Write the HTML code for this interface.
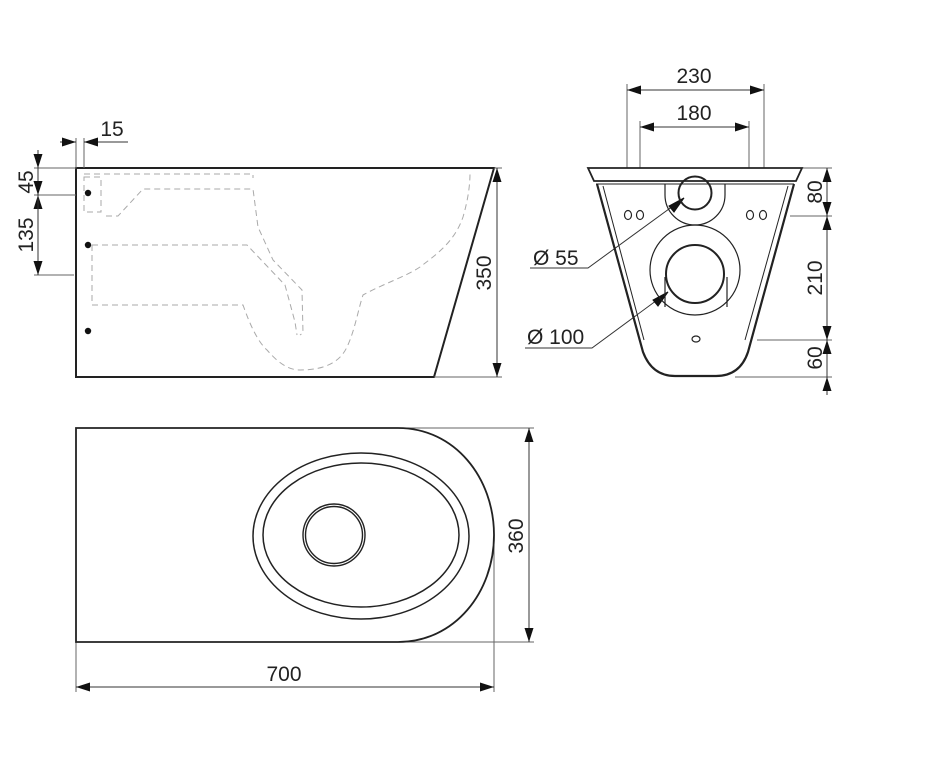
<!DOCTYPE html>
<html><head><meta charset="utf-8"><style>
html,body{margin:0;padding:0;background:#fff;}
svg{display:block;}
text{font-family:"Liberation Sans","DejaVu Sans",sans-serif;font-size:21px;fill:#222;}
</style></head><body>
<svg width="946" height="777" viewBox="0 0 946 777" xmlns="http://www.w3.org/2000/svg">
<defs>
<marker id="a" viewBox="0 0 10 10" refX="10" refY="5" markerWidth="14" markerHeight="9" orient="auto-start-reverse" markerUnits="userSpaceOnUse" preserveAspectRatio="none"><path d="M0,0 L10,5 L0,10 Z" fill="#111"/></marker>
</defs>
<g fill="none" stroke="#222" stroke-width="2">
<path d="M76,168 L494,168 L434,377 L76,377 Z"/>
</g>
<g fill="none" stroke="#aaa" stroke-width="1" stroke-dasharray="6,4">
<path d="M84,174 L253,174 L253,178"/>
<path d="M84,177 L101,177 L101,212 L84,212 Z"/>
<path d="M106,216 L118,216 L143,189 L253,189 L258,227 L273,260 L302,290 L303,333 L300,335"/>
<path d="M92,245 L247,245 L285,285 L295,322 L297,335"/>
<path d="M92,245 L92,305 L243,305 C250,325 258,342 267,350 C280,365 290,370 300,370 C325,370 340,362 347,347 C355,330 358,310 363,295 C385,283 405,277 420,267 C440,252 455,240 463,217 C468,200 470,185 470,173"/>
</g>
<g fill="#111"><circle cx="88" cy="193" r="3.2"/><circle cx="88" cy="245" r="3.2"/><circle cx="88" cy="331" r="3.2"/></g>
<g fill="none" stroke="#666" stroke-width="1">
<line x1="494" y1="168" x2="502" y2="168"/><line x1="434" y1="377" x2="502" y2="377"/>
<line x1="497" y1="168" x2="497" y2="377" marker-start="url(#a)" marker-end="url(#a)" stroke="#333"/>
<line x1="76" y1="138" x2="76" y2="168"/><line x1="84" y1="138" x2="84" y2="168"/>
<line x1="60" y1="142" x2="76" y2="142" marker-end="url(#a)" stroke="#333"/>
<line x1="128" y1="142" x2="84" y2="142" marker-end="url(#a)" stroke="#333"/>
<line x1="34" y1="168" x2="76" y2="168"/><line x1="34" y1="195" x2="76" y2="195"/><line x1="34" y1="275" x2="74" y2="275"/>
<line x1="38" y1="150" x2="38" y2="168" marker-end="url(#a)" stroke="#333"/>
<line x1="38" y1="168" x2="38" y2="195" marker-end="url(#a)" stroke="#333"/>
<line x1="38" y1="275" x2="38" y2="195" marker-end="url(#a)" stroke="#333"/>
<line x1="38" y1="195" x2="38" y2="275" marker-end="url(#a)" stroke="#333"/>
<line x1="627" y1="84" x2="627" y2="168"/><line x1="764" y1="84" x2="764" y2="168"/>
<line x1="640" y1="121" x2="640" y2="168"/><line x1="749" y1="121" x2="749" y2="168"/>
<line x1="627" y1="90" x2="764" y2="90" marker-start="url(#a)" marker-end="url(#a)" stroke="#333"/>
<line x1="640" y1="127" x2="749" y2="127" marker-start="url(#a)" marker-end="url(#a)" stroke="#333"/>
<line x1="802" y1="168" x2="832" y2="168"/><line x1="790" y1="216" x2="832" y2="216"/>
<line x1="757" y1="340" x2="832" y2="340"/><line x1="735" y1="377" x2="832" y2="377"/>
<line x1="827" y1="168" x2="827" y2="216" marker-start="url(#a)" marker-end="url(#a)" stroke="#333"/>
<line x1="827" y1="216" x2="827" y2="340" marker-start="url(#a)" marker-end="url(#a)" stroke="#333"/>
<line x1="827" y1="340" x2="827" y2="377" marker-start="url(#a)" stroke="#333"/>
<line x1="827" y1="395" x2="827" y2="377" marker-end="url(#a)" stroke="#333"/>
<path d="M530,268 L588,268 L684,198" stroke="#333"/>
<path d="M525,348 L592,348 L668,292" stroke="#333"/>
<line x1="400" y1="428" x2="534" y2="428"/><line x1="400" y1="642" x2="534" y2="642"/>
<line x1="529" y1="428" x2="529" y2="642" marker-start="url(#a)" marker-end="url(#a)" stroke="#333"/>
<line x1="76" y1="642" x2="76" y2="692"/><line x1="494" y1="535" x2="494" y2="692"/>
<line x1="76" y1="687" x2="494" y2="687" marker-start="url(#a)" marker-end="url(#a)" stroke="#333"/>
</g>
<g fill="#111" stroke="#111" stroke-width="1">
<path d="M684,198 L669,206 L674,212 Z"/>
<path d="M668,292 L653,300 L658,306 Z"/>
</g>
<g fill="none" stroke="#222" stroke-width="1.8">
<path d="M588,168 L802,168 L796,181 L594,181 Z"/>
<line x1="596" y1="184" x2="794" y2="184" stroke-width="1"/>
<path d="M597,184 L643,352 Q652,376 675,376 L716,376 Q740,376 748,352 L794,184" stroke-width="2.2"/>
<path d="M603,186 L644,340" stroke-width="1"/>
<path d="M788,186 L745,340" stroke-width="1"/>
<path d="M665,184 L665,195 A30,30 0 0 0 725,195 L725,184" stroke-width="1.2"/>
<circle cx="695" cy="193" r="16.5" stroke-width="2"/>
<circle cx="695" cy="270" r="45" stroke-width="1.2"/>
<circle cx="695" cy="274" r="29" stroke-width="2"/>
<line x1="665" y1="277" x2="665" y2="307" stroke-width="1.2"/>
<line x1="727" y1="277" x2="727" y2="307" stroke-width="1.2"/>
<ellipse cx="628" cy="215" rx="3.5" ry="4.5" stroke-width="1.2"/>
<ellipse cx="640" cy="215" rx="3.5" ry="4.5" stroke-width="1.2"/>
<ellipse cx="750" cy="215" rx="3.5" ry="4.5" stroke-width="1.2"/>
<ellipse cx="763" cy="215" rx="3.5" ry="4.5" stroke-width="1.2"/>
<ellipse cx="696" cy="339" rx="4" ry="3" stroke-width="1.2"/>
</g>
<g fill="none" stroke="#222" stroke-width="1.8">
<path d="M76,428 L398,428 C455,428 494,478 494,535 C494,592 455,642 398,642 L76,642 Z"/>
<ellipse cx="361" cy="536" rx="108" ry="83" stroke-width="1.5"/>
<ellipse cx="361" cy="535" rx="98" ry="72" stroke-width="1.5"/>
<circle cx="334" cy="535" r="31" stroke-width="1.4"/>
<circle cx="334" cy="535" r="28.5" stroke-width="1.4"/>
</g>
<text x="112" y="136" text-anchor="middle">15</text>
<text transform="translate(33,182) rotate(-90)" text-anchor="middle">45</text>
<text transform="translate(33,235) rotate(-90)" text-anchor="middle">135</text>
<text transform="translate(491,273) rotate(-90)" text-anchor="middle">350</text>
<text x="694" y="83" text-anchor="middle">230</text>
<text x="694" y="120" text-anchor="middle">180</text>
<text x="533" y="265">Ø 55</text>
<text x="527" y="344">Ø 100</text>
<text transform="translate(822,192) rotate(-90)" text-anchor="middle">80</text>
<text transform="translate(822,278) rotate(-90)" text-anchor="middle">210</text>
<text transform="translate(822,358) rotate(-90)" text-anchor="middle">60</text>
<text transform="translate(523,536) rotate(-90)" text-anchor="middle">360</text>
<text x="284" y="681" text-anchor="middle">700</text>
</svg>
</body></html>
